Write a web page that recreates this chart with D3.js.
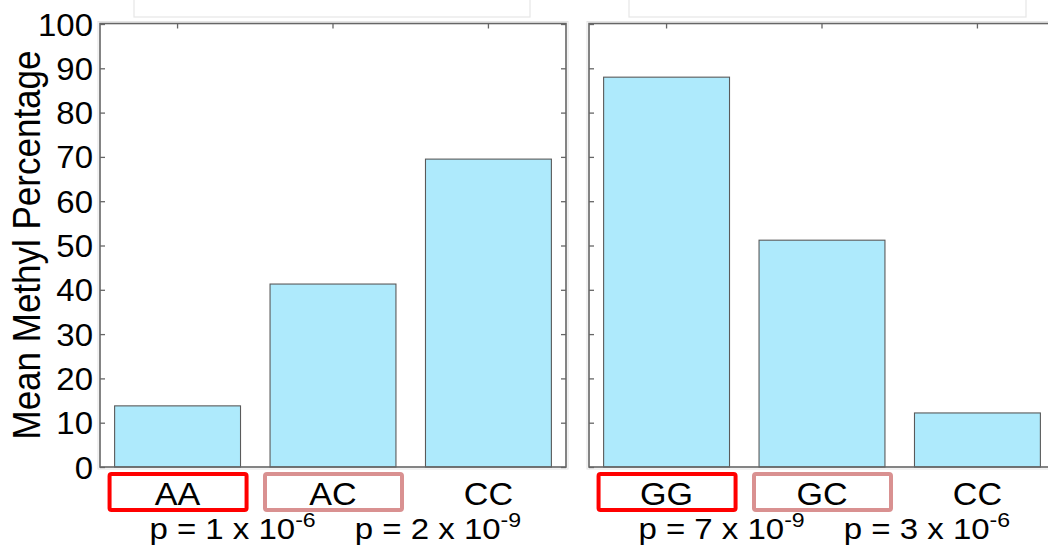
<!DOCTYPE html>
<html><head><meta charset="utf-8">
<script src="https://cdn.jsdelivr.net/npm/d3@7"></script>
<style>body{margin:0;background:#fff}svg{display:block}</style>
</head><body><svg id="c" width="1048" height="548"></svg>
<script>
const leftCategories = ["AA", "AC", "CC"];
const leftValues = [13.8, 41.3, 69.5];
const rightCategories = ["GG", "GC", "CC"];
const rightValues = [88.0, 51.2, 12.2];
const yTicks = [0, 10, 20, 30, 40, 50, 60, 70, 80, 90, 100];
const leftPMantissa = ["1", "2"];
const leftPExponent = ["-6", "-9"];
const rightPMantissa = ["7", "3"];
const rightPExponent = ["-9", "-6"];
const boxColors = ["#ff0000", "#d99191", null];
const yLabel = "Mean Methyl Percentage";

const svg = d3.select("#c");
const FONT = "Liberation Sans, Arial, sans-serif";
const SX = 1.1; // horizontal stretch of the original figure's text
const yTop = 23.5, yBottom = 467;
const y = d3.scaleLinear().domain([0, 100]).range([yBottom, yTop + 0.5]);

function stretch(px, s) { return `translate(${px},0) scale(${s || SX},1) translate(${-px},0)`; }

// faint cropped title boxes at top
[[134, 530], [629, 1026]].forEach(([a, b]) => {
  svg.append("rect").attr("x", a).attr("y", -10).attr("width", b - a).attr("height", 27)
    .attr("fill", "none").attr("stroke", "#e6e6e6").attr("stroke-width", 1.2);
});

function panel(x0, x1, cats, vals, mant, expo, showY) {
  const x = d3.scaleBand().domain(cats).range([x0, x1]).paddingInner(0.19).paddingOuter(0.094);
  const g = svg.append("g");
  g.append("rect").attr("x", x0 - 2).attr("y", yTop - 2).attr("width", x1 - x0 + 4).attr("height", yBottom - yTop + 4)
    .attr("fill", "none").attr("stroke", "#e4e4e4").attr("stroke-width", 1);
  g.selectAll("rect.bar").data(vals).join("rect").attr("class", "bar")
    .attr("x", (d, i) => x(cats[i])).attr("width", x.bandwidth())
    .attr("y", d => y(d)).attr("height", d => y(0) - y(d))
    .attr("fill", "#aeeafc").attr("stroke", "#5a5a5a").attr("stroke-width", 1.1);
  g.append("rect").attr("x", x0).attr("y", yTop).attr("width", x1 - x0).attr("height", yBottom - yTop)
    .attr("fill", "none").attr("stroke", "#666").attr("stroke-width", 1.6);
  const yl = d3.axisRight(y).tickValues(yTicks).tickSize(5).tickFormat("");
  const yr = d3.axisLeft(y).tickValues(yTicks).tickSize(5).tickFormat("");
  const xt = d3.axisBottom(x).tickSize(5).tickFormat("");
  const gl = g.append("g").attr("transform", `translate(${x0},0)`).call(yl);
  const gr = g.append("g").attr("transform", `translate(${x1},0)`).call(yr);
  const gt = g.append("g").attr("transform", `translate(0,${yTop})`).call(xt);
  [gl, gr, gt].forEach(s => { s.select(".domain").remove(); s.selectAll("line").attr("stroke", "#666").attr("stroke-width", 1.3); });
  if (showY) {
    g.append("g").selectAll("text").data(yTicks).join("text")
      .attr("x", x0 - 7).attr("y", d => y(d)).attr("dy", "0.36em")
      .attr("text-anchor", "end").attr("font-family", FONT).attr("font-size", 32)
      .attr("transform", stretch(x0 - 7, 1.03))
      .attr("fill", "#000").text(d => d);
  }
  cats.forEach((c, i) => {
    const cx = x(c) + x.bandwidth() / 2;
    if (boxColors[i]) {
      g.append("rect").attr("x", cx - 68).attr("y", 474).attr("width", 137).attr("height", 36).attr("rx", 2)
        .attr("fill", "none").attr("stroke", boxColors[i]).attr("stroke-width", 4);
    }
    g.append("text").attr("x", cx).attr("y", 505).attr("text-anchor", "middle")
      .attr("font-family", FONT).attr("font-size", 31).attr("fill", "#000")
      .attr("transform", stretch(cx)).text(c);
  });
  const offs = [55, 105];
  mant.forEach((m, i) => {
    const cx = x(cats[i]) + x.bandwidth() / 2 + offs[i];
    const t = g.append("text").attr("x", cx).attr("y", 539).attr("text-anchor", "middle")
      .attr("font-family", FONT).attr("font-size", 30).attr("fill", "#000")
      .attr("transform", stretch(cx));
    t.append("tspan").text(`p = ${m} x 10`);
    t.append("tspan").attr("font-size", 21).attr("dy", -12).text(expo[i]);
  });
}

panel(100, 566, leftCategories, leftValues, leftPMantissa, leftPExponent, true);
panel(589, 1055, rightCategories, rightValues, rightPMantissa, rightPExponent, false);

svg.append("text").attr("transform", `translate(40,245) scale(${SX},1) rotate(-90)`)
  .attr("text-anchor", "middle").attr("font-family", FONT).attr("font-size", 35)
  .attr("fill", "#000").text(yLabel);
</script></body></html>
